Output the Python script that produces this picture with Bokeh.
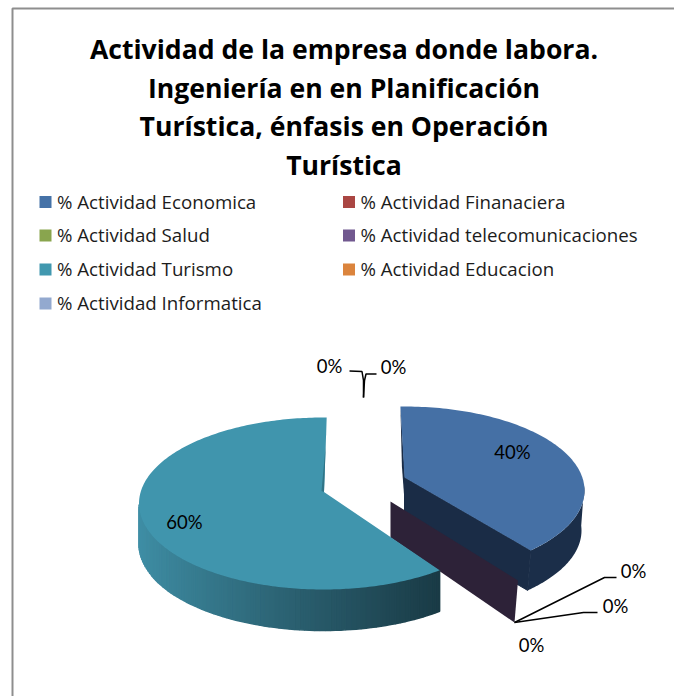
import math
from bokeh.plotting import figure
from bokeh.models import Range1d
from bokeh.core.properties import value
from bokeh.embed import file_html
from bokeh.resources import INLINE

# ---- data -------------------------------------------------------------
title_lines = ["Actividad de la empresa donde labora.",
               "Ingeniería en en Planificación",
               "Turística, énfasis en Operación",
               "Turística"]
categories = ["% Actividad Economica", "% Actividad Finanaciera",
              "% Actividad Salud", "% Actividad telecomunicaciones",
              "% Actividad Turismo", "% Actividad Educacion",
              "% Actividad Informatica"]
percent = [40, 0, 0, 0, 60, 0, 0]
colors = ["#4572A7", "#AA4643", "#89A54E", "#71588F", "#4198AF", "#DB843D", "#93A9CF"]

W, H = 674, 696
p = figure(width=W, height=H, output_backend="svg", toolbar_location=None,
           x_range=Range1d(0, W), y_range=Range1d(H, 0),
           x_axis_location=None, y_axis_location=None,
           min_border=0, outline_line_color=None, background_fill_color="white")
p.grid.visible = False

# ---- frame ------------------------------------------------------------
p.line([12, 12, W], [H, 8, 8], line_color="#8e8e8e", line_width=2)

# ---- title ------------------------------------------------------------
p.text([343.5] * 4, [48.5 + 38.5 * i for i in range(4)], text=title_lines,
       text_font=value("Open Sans"), text_font_style="bold", text_font_size="26.6px",
       text_align="center", text_baseline="middle", text_color="#000000")

# ---- legend -----------------------------------------------------------
LEG_X = [39, 342.5]
LEG_Y = [201.5, 235, 269, 303]
lx, ly = [], []
for i in range(len(categories)):
    lx.append(LEG_X[i % 2])
    ly.append(LEG_Y[i // 2])
p.rect([x + 6 for x in lx], ly, width=12, height=12, fill_color=colors,
       line_color=None)
p.text([x + 17.5 for x in lx], [y - 1 for y in ly], text=categories, text_font=value("Open Sans"),
       text_font_size="18.7px", text_align="left", text_baseline="middle",
       text_color="#1c1c1c")

# ---- pie --------------------------------------------------------------
DEPTH = 41


def angles():
    out, acc = [], 0.0
    total = sum(percent)
    for v in percent:
        out.append((acc, acc + 360.0 * v / total))
        acc += 360.0 * v / total
    return out


def rim(view, t):
    r = math.radians(t * view["scale"] + view["rot"])
    return view["cx"] + view["a"] * math.sin(r), view["cy"] - view["b"] * math.cos(r)


def arc(view, t0, t1, n=120):
    return [rim(view, t0 + (t1 - t0) * k / n) for k in range(n + 1)]


def mix(c0, c1, f):
    f = max(0.0, min(1.0, f))
    return "#" + "".join(f"{round(a + (b - a) * f):02x}" for a, b in zip(c0, c1))


# perspective of each exploded slice (drawn positions, not data)
view_blue = dict(cx=404, cy=490, a=180, b=84, ax=404, ay=477, scale=0.95, rot=-1.3)
view_teal = dict(cx=323, cy=503, a=184.5, b=86, ax=323.5, ay=491.5, scale=1.0185, rot=-5.67)

spans = angles()
blue_span = spans[0]
teal_span = spans[4]

# blue slice: inner wall, outer wall, face
bt0, bt1 = blue_span
bx, by = rim(view_blue, bt1)
p.patch([view_blue["ax"], bx, bx - 3, view_blue["ax"]],
        [view_blue["ay"], by, by + DEPTH - 1, view_blue["ay"] + DEPTH],
        fill_color="#1a2c46", line_color="#1a2c46")
tx, ty = rim(view_blue, bt0)
p.patch([tx, view_blue["ax"] + 0.5, view_blue["ax"] + 0.5, tx + 1.5],
        [ty, view_blue["ay"], view_blue["ay"] + 30, ty + 60],
        fill_color="#1a2c46", line_color=None)
pts = arc(view_blue, 88 / view_blue["scale"], bt1)
xs = [q[0] for q in pts] + [q[0] - 3 for q in reversed(pts)]
ys = [q[1] for q in pts] + [q[1] + DEPTH - 1 for q in reversed(pts)]
p.patch(xs, ys, fill_color="#1b2e49", line_color=None)
pts = arc(view_blue, bt0, bt1)
p.patch([view_blue["ax"]] + [q[0] for q in pts], [view_blue["ay"]] + [q[1] for q in pts],
        fill_color="#4570a5", line_color=None)

# zero-value slice: only its wall is visible
wall_x = [390, 517.5, 514, 390]
wall_y = [501, 580, 622, 537]
p.patch(wall_x, wall_y, fill_color="#2d2238", line_color=None)

# teal slice: outer wall with shading, face, sliver
tt0, tt1 = teal_span
seg = arc(view_teal, tt0, 270, n=80)
x_left, x_right = view_teal["cx"] - view_teal["a"], seg[0][0]
sx, sy, sc = [], [], []
for q0, q1 in zip(seg[:-1], seg[1:]):
    sx.append([q0[0], q1[0], q1[0], q0[0]])
    sy.append([q0[1], q1[1], q1[1] + DEPTH - (1 if q1[0] < 150 else 0), q0[1] + DEPTH])
    f = (q0[0] - x_left) / (x_right - x_left)
    sc.append(mix((0x3f, 0x8e, 0xa5), (0x1a, 0x3b, 0x46), f ** 0.9))
p.patches(sx, sy, fill_color=sc, line_color=sc, line_width=1.5)
pts = arc(view_teal, tt0, tt1, n=240)
p.patch([view_teal["ax"]] + [q[0] for q in pts], [view_teal["ay"]] + [q[1] for q in pts],
        fill_color="#4095ad", line_color=None)
ex, ey = rim(view_teal, tt1)
p.patch([ex, view_teal["ax"], view_teal["ax"] - 2.5, ex - 1.2],
        [ey, view_teal["ay"], view_teal["ay"] - 1, ey + 30],
        fill_color="#2f7487", line_color=None)

# ---- leader lines and labels -----------------------------------------
leaders_x = [[514, 604, 616], [514, 583, 597], [363, 363, 361.5, 349], [363, 364, 365.5, 376]]
leaders_y = [[622, 577, 577], [622, 612, 612], [397, 380, 371, 370.5], [397, 380, 373.5, 373.5]]
p.multi_line(leaders_x, leaders_y, line_color="#000000", line_width=1.5)

label_x = [512, 633, 615, 531, 184, 329, 393]
label_y = [451, 570, 605, 644.5, 521, 365, 366.5]
p.text(label_x, label_y, text=[f"{v}%" for v in percent], text_font=value("Lato"),
       text_font_size="18.5px", text_align="center", text_baseline="middle",
       text_color="#000000")

open("out.html", "w").write(file_html(p, INLINE))
